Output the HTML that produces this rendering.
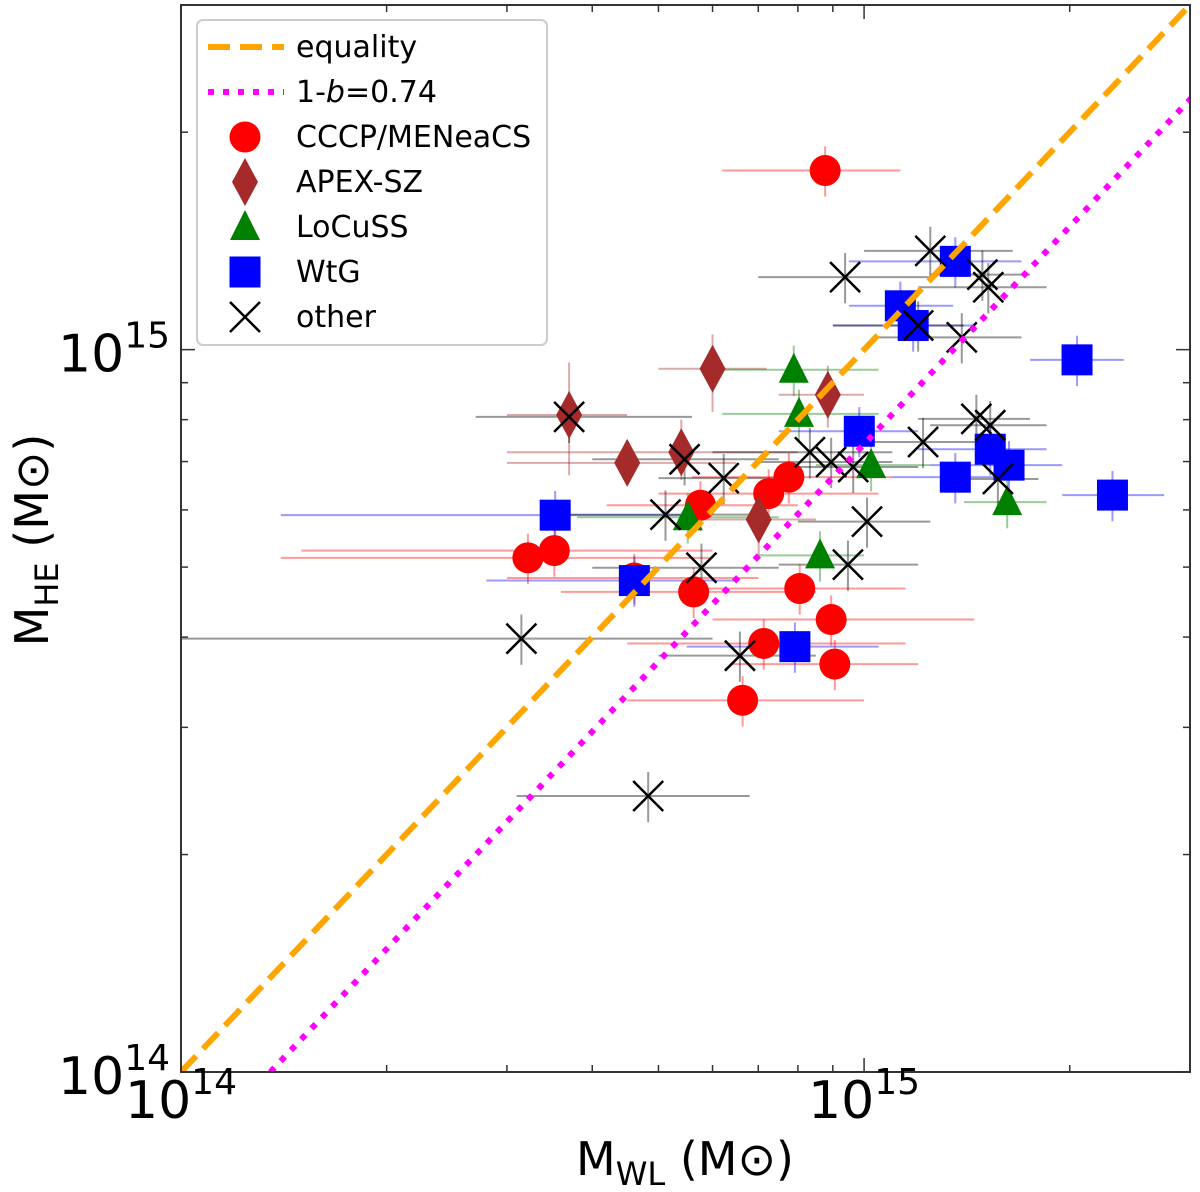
<!DOCTYPE html>
<html><head><meta charset="utf-8"><style>
html,body{margin:0;padding:0;background:#fff;}
svg{display:block;font-family:"DejaVu Sans","Liberation Sans",sans-serif;}
</style></head><body>
<svg id="chart" width="1200" height="1192" viewBox="0 0 1200 1192">
<defs><clipPath id="plotclip"><rect x="181" y="5" width="1009" height="1067"/></clipPath></defs>
<g id="errs" clip-path="url(#plotclip)"></g>
<g id="marks" clip-path="url(#plotclip)"></g>
<g id="lines" clip-path="url(#plotclip)"></g>
<rect x="181" y="5" width="1009" height="1067" fill="none" stroke="#333" stroke-width="2"/>
<g id="ticks"></g>
<g id="ticklabels"></g>
<text x="685" y="1175" font-size="46" text-anchor="middle">M<tspan font-size="32" dy="10">WL</tspan><tspan dy="-10"> (M</tspan><tspan>⊙</tspan>)</text>
<text transform="translate(48,540) rotate(-90)" font-size="46" text-anchor="middle">M<tspan font-size="32" dy="10">HE</tspan><tspan dy="-10"> (M⊙)</tspan></text>
<g id="legend">
<rect x="197" y="20" width="350" height="325" rx="6" fill="#fff" fill-opacity="0.85" stroke="#ccc" stroke-width="2"/>
</g>
</svg>
<script>
// Units: 1e14 solar masses
const cccpX = [8.77,3.22,3.52,4.61,5.63,5.76,7.25,7.76,8.05,8.95,7.13,9.06,6.64];
const cccpY = [17.7,5.15,5.27,4.83,4.62,6.09,6.32,6.66,4.67,4.23,3.92,3.67,3.27];
const cccpXlo = [6.2,1.4,1.5,3.0,3.6,4.2,5.0,5.6,5.5,6.0,4.5,6.4,4.5];
const cccpXhi = [11.3,6.0,6.0,7.0,8.5,8.0,10.5,11.0,11.5,14.5,11.5,12.0,10.0];
const apexX = [3.70,6.00,8.85,4.50,5.40,7.01];
const apexY = [8.12,9.41,8.66,6.97,7.21,5.82];
const apexXlo = [3.0,5.0,7.5,3.0,3.0,5.5];
const apexXhi = [4.5,7.2,10.0,6.5,8.0,8.5];
const apexYlo = [6.7,8.2,7.8,6.5,6.6,5.2];
const apexYhi = [9.6,10.5,9.5,7.5,8.0,6.5];
const locX = [7.89,8.03,10.24,16.2,5.52,8.62];
const locY = [9.38,8.15,6.92,6.15,5.86,5.19];
const locXlo = [6.0,6.2,8.5,14.0,3.8,7.0];
const locXhi = [10.5,10.5,12.5,18.5,7.5,10.0];
const wtgX = [13.6,11.3,11.8,20.5,9.84,15.3,16.3,13.6,23.1,3.53,4.61,7.92];
const wtgY = [13.25,11.5,10.8,9.68,7.71,7.28,6.92,6.66,6.29,5.90,4.79,3.88];
const wtgXlo = [9.5,9.5,9.0,17.5,7.5,12.0,12.5,11.0,19.5,1.4,2.8,5.5];
const wtgXhi = [17.0,13.5,14.5,24.0,12.0,18.5,19.5,16.0,27.5,5.5,6.5,10.5];
const othX = [12.5,9.38,14.9,15.2,13.9,12.0,3.70,12.2,14.6,15.3,8.33,8.95,5.46,6.23,5.12,10.1,9.64,5.78,9.47,3.15,6.58,4.83,15.7];
const othY = [13.7,12.6,12.7,12.2,10.4,10.8,8.07,7.45,8.02,7.86,7.21,6.99,7.05,6.64,5.91,5.78,6.88,4.99,5.04,3.98,3.77,2.41,6.62];
const othXlo = [10.0,7.0,12.5,12.0,10.5,9.0,2.7,9.5,12.0,12.5,6.0,7.0,4.0,5.0,3.5,8.0,7.5,4.0,7.5,1.0,5.0,3.1,13.5];
const othXhi = [16.5,12.5,17.5,18.5,17.0,14.0,5.6,16.0,17.5,18.5,11.0,11.0,7.5,7.5,7.0,12.5,12.0,7.5,12.0,6.0,8.5,6.8,18.0];

const NS = "http://www.w3.org/2000/svg";
const X0=181, X1=1190, Y0=1072, Y1=5;
const LMIN=0, LMAX=Math.log10(30);
function sx(v){return X0+(Math.log10(v)-LMIN)/(LMAX-LMIN)*(X1-X0);}
function sy(v){return Y0-(Math.log10(v)-LMIN)/(LMAX-LMIN)*(Y0-Y1);}
function el(tag, attrs, parent){const e=document.createElementNS(NS,tag);for(const k in attrs)e.setAttribute(k,attrs[k]);parent.appendChild(e);return e;}
const errs=document.getElementById('errs'), marks=document.getElementById('marks');

function errbars(xs,ys,xlo,xhi,ylo,yhi,color,name){
  for(let i=0;i<xs.length;i++){
    const h=el('line',{x1:sx(xlo[i]),x2:sx(xhi[i]),y1:sy(ys[i]),y2:sy(ys[i]),stroke:color,'stroke-opacity':0.4,'stroke-width':2},errs);
    
    
    const yl=ylo?ylo[i]:ys[i]*0.92, yh=yhi?yhi[i]:ys[i]*1.08;
    const v=el('line',{x1:sx(xs[i]),x2:sx(xs[i]),y1:sy(yl),y2:sy(yh),stroke:color,'stroke-opacity':0.4,'stroke-width':2},errs);
    
    
  }
}
errbars(cccpX,cccpY,cccpXlo,cccpXhi,null,null,'red','cccp');
errbars(apexX,apexY,apexXlo,apexXhi,apexYlo,apexYhi,'brown','apex');
errbars(locX,locY,locXlo,locXhi,null,null,'green','locuss');
errbars(wtgX,wtgY,wtgXlo,wtgXhi,null,null,'blue','wtg');
errbars(othX,othY,othXlo,othXhi,null,null,'black','other');

function marker(type,cx,cy,parent){
  let e;
  if(type==='circle') e=el('circle',{cx:cx,cy:cy,r:15.5,fill:'red'},parent);
  else if(type==='diamond') e=el('polygon',{points:`${cx},${cy-24} ${cx+13},${cy} ${cx},${cy+24} ${cx-13},${cy}`,fill:'#a52a2a'},parent);
  else if(type==='tri') e=el('polygon',{points:`${cx},${cy-17} ${cx+15},${cy+13} ${cx-15},${cy+13}`,fill:'green'},parent);
  else if(type==='square') e=el('rect',{x:cx-15.5,y:cy-15.5,width:31,height:31,fill:'blue'},parent);
  else e=el('path',{d:`M${cx-15},${cy-15}L${cx+15},${cy+15}M${cx-15},${cy+15}L${cx+15},${cy-15}`,stroke:'black','stroke-width':2.5,fill:'none'},parent);
  return e;
}
function series(xs,ys,type,name){
  for(let i=0;i<xs.length;i++){
    const m=marker(type,sx(xs[i]),sy(ys[i]),marks);
    
    
  }
}
series(cccpX,cccpY,'circle','cccp');
series(apexX,apexY,'diamond','apex');
series(locX,locY,'tri','locuss');
series(wtgX,wtgY,'square','wtg');
series(othX,othY,'x','other');

const lines=document.getElementById('lines');
const eq=el('line',{x1:sx(1),y1:sy(1),x2:sx(30),y2:sy(30),stroke:'orange','stroke-width':6,'stroke-dasharray':'22 10'},lines);


const bl=el('line',{x1:sx(1/0.74),y1:sy(1),x2:sx(40),y2:sy(40*0.74),stroke:'magenta','stroke-width':6,'stroke-dasharray':'6 9'},lines);



// ticks
const ticks=document.getElementById('ticks');
const tv=[];
for(let d of [1,10]) for(let k=1;k<10;k++){const v=d*k;if(v<=30)tv.push(v);}
tv.forEach(v=>{
  const major=(v===1||v===10), L=major?14:7;
  const x=sx(v), y=sy(v);
  el('line',{x1:x,x2:x,y1:Y0,y2:Y0-L,stroke:'#333','stroke-width':1.5},ticks);
  el('line',{x1:x,x2:x,y1:Y1,y2:Y1+L,stroke:'#333','stroke-width':1.5},ticks);
  el('line',{x1:X0,x2:X0+L,y1:y,y2:y,stroke:'#333','stroke-width':1.5},ticks);
  el('line',{x1:X1,x2:X1-L,y1:y,y2:y,stroke:'#333','stroke-width':1.5},ticks);
});
const tl=document.getElementById('ticklabels');
const tickExp=['14','15'];
const tickVals=[1,10];
tickVals.forEach((v,i)=>{
  const t=el('text',{x:sx(v),y:1118,'font-size':52,'text-anchor':'middle'},tl);
  t.innerHTML='10<tspan font-size="36" dy="-24">'+tickExp[i]+'</tspan>';
  
  
  const u=el('text',{x:170,y:sy(v)+22,'font-size':52,'text-anchor':'end'},tl);
  u.innerHTML='10<tspan font-size="36" dy="-24">'+tickExp[i]+'</tspan>';
  
  
});

// legend
const lg=document.getElementById('legend');
const legLabels=['equality','1-b=0.74','CCCP/MENeaCS','APEX-SZ','LoCuSS','WtG','other'];
const legTypes=['eq','bias','circle','diamond','tri','square','x'];
legLabels.forEach((lab,i)=>{
  const y=47+i*45;
  const g=el('g',{},lg);
  
  
  const t=legTypes[i];
  if(t==='eq') el('line',{x1:208,x2:284,y1:y,y2:y,stroke:'orange','stroke-width':6,'stroke-dasharray':'22 10'},g);
  else if(t==='bias') el('line',{x1:208,x2:284,y1:y,y2:y,stroke:'magenta','stroke-width':6,'stroke-dasharray':'6 9'},g);
  else marker(t,245,y,g);
  const tx=el('text',{x:296,y:y+10,'font-size':30},g);
  if(t==='bias') tx.innerHTML='1-<tspan font-style="italic">b</tspan>=0.74'; else tx.textContent=lab;
});
</script>
</body></html>
